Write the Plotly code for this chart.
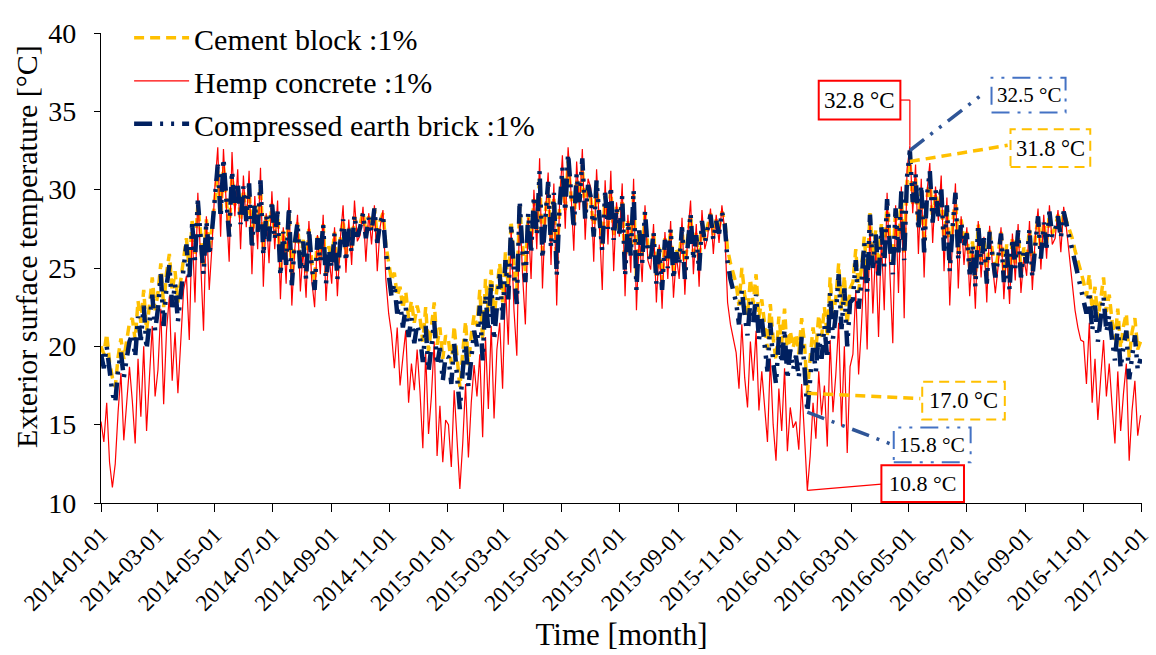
import numpy as np
import pandas as pd
import plotly.graph_objects as go

# Exterior surface temperature (°C), one reading every 3 days from 2014-01-01.
cement_2014 = [
    20.0, 19.5, 20.8, 19.0, 18.0, 17.4, 19.3, 20.5, 19.2, 20.3, 21.5,
    21.8, 20.4, 22.9, 21.5, 23.6, 21.0, 22.6, 24.4, 22.3,
    23.4, 25.3, 22.5, 24.7, 25.9, 23.5, 24.8, 22.8, 24.4, 25.6,
    26.9, 24.8, 28.0, 25.9, 29.1, 27.0, 25.2, 28.1, 26.2, 27.6,
    29.6, 31.2, 28.3, 31.5, 29.3, 27.3, 30.9, 29.0, 30.2, 28.0, 30.0,
    28.1, 30.1, 26.6, 29.0, 27.4, 30.2, 26.3, 28.4, 27.0, 29.1,
    27.0, 28.5, 24.9, 27.4, 25.5, 28.7, 24.4, 26.6, 27.9, 25.2,
    26.8, 24.7, 27.5, 25.4, 24.1, 27.0, 25.6, 27.8, 24.5, 26.4,
    25.4, 27.3, 24.8, 26.8, 28.1, 25.7, 27.6, 26.3, 28.3, 27.2,
    27.8, 28.6, 27.2, 28.3, 27.5, 28.8, 27.0, 28.0, 28.5, 26.5, 25.3,
    24.2, 24.7, 23.2, 23.8, 22.4, 23.5, 21.8, 22.9, 21.5, 22.6,
    21.8, 20.3, 22.5, 19.7, 21.4, 22.8, 20.1, 21.2, 19.2, 20.7,
]
hemp_2014 = [
    15.2, 13.9, 16.4, 12.6, 11.0, 12.5, 15.8, 18.3, 14.0, 16.2, 18.7,
    16.5, 13.8, 19.2, 15.5, 20.0, 14.6, 18.0, 21.3, 16.8,
    18.5, 22.4, 16.3, 21.0, 23.2, 17.8, 20.9, 17.0, 20.4, 23.6,
    24.5, 20.4, 27.6, 22.8, 29.8, 25.1, 21.0, 28.3, 23.6, 26.5,
    30.2, 32.7, 27.0, 32.6, 29.2, 25.4, 32.4, 28.3, 31.3, 26.2, 30.9,
    27.6, 31.2, 24.6, 29.6, 26.2, 31.4, 23.8, 28.5, 25.3, 29.9,
    26.2, 29.3, 23.0, 27.6, 24.0, 29.5, 22.6, 26.1, 28.4, 23.5,
    26.3, 23.1, 28.0, 24.2, 22.5, 27.1, 24.6, 28.4, 22.9, 25.9,
    24.0, 27.6, 23.2, 26.8, 29.0, 24.7, 28.1, 25.2, 29.3, 26.7,
    27.1, 28.9, 25.4, 28.5, 26.5, 29.0, 24.8, 27.6, 28.7, 24.3, 22.1,
    20.8, 18.6, 21.2, 17.5, 19.3, 21.0, 16.4, 18.9, 17.2, 19.8,
    17.1, 13.5, 19.6, 14.4, 16.8, 20.3, 13.0, 16.2, 12.6, 15.3,
]
earth_2014 = [
    19.5, 18.6, 20.0, 18.2, 17.0, 16.4, 18.5, 19.6, 18.0, 19.2, 20.3,
    20.8, 19.3, 21.9, 20.4, 22.6, 19.8, 21.5, 23.3, 21.0,
    22.4, 24.6, 21.3, 23.8, 25.2, 22.5, 24.0, 21.6, 23.5, 25.0,
    26.5, 24.2, 27.8, 25.5, 29.3, 26.8, 24.6, 28.0, 25.8, 27.4,
    29.8, 31.6, 28.2, 32.0, 29.4, 27.0, 31.2, 29.0, 30.5, 27.8, 30.2,
    28.0, 30.4, 26.2, 29.1, 27.3, 30.6, 25.8, 28.4, 26.7, 29.3,
    26.8, 28.6, 24.5, 27.3, 25.2, 28.9, 23.9, 26.5, 27.9, 24.8,
    26.7, 24.3, 27.5, 25.1, 23.6, 26.9, 25.4, 27.8, 24.0, 26.2,
    25.0, 27.2, 24.3, 26.6, 28.1, 25.4, 27.5, 26.0, 28.4, 27.0,
    27.6, 28.5, 26.9, 28.2, 27.3, 28.8, 26.6, 27.9, 28.4, 26.0, 24.6,
    23.2, 24.0, 22.1, 22.9, 21.2, 22.5, 20.6, 21.8, 20.2, 21.4,
    20.6, 19.0, 21.3, 18.4, 20.1, 21.6, 18.8, 19.9, 17.8, 19.4,
]

cement_2015 = [
    20.4, 18.9, 21.3, 19.5, 17.4, 19.6, 21.6, 18.8, 20.7, 22.0,
    21.3, 23.6, 20.4, 24.3, 22.2, 24.9, 21.7, 23.7, 25.3, 22.8,
    26.0, 23.8, 28.0, 25.2, 23.6, 29.0, 26.4, 24.8, 28.4, 26.3,
    29.4, 27.3, 30.8, 26.0, 28.5, 30.2, 26.7, 29.6, 25.2, 28.8,
    31.0, 28.7, 31.8, 29.7, 27.8, 30.7, 29.2, 31.5, 28.3, 30.1,
    29.4, 27.2, 30.3, 28.2, 26.5, 29.6, 27.6, 30.0, 27.1, 28.9,
    27.3, 29.4, 25.0, 28.0, 26.1, 29.7, 24.3, 27.5, 25.7, 28.5, 26.4,
    25.7, 27.3, 24.5, 26.3, 24.1, 26.9, 25.3, 27.5, 24.8, 26.2,
    25.6, 27.6, 24.8, 27.0, 28.4, 25.9, 27.3, 25.3, 28.0, 26.8,
    27.7, 28.5, 27.1, 28.1, 27.5, 28.6, 28.0, 26.2, 25.3, 24.6,
    24.0, 22.6, 25.0, 23.3, 22.0, 24.3, 22.7, 24.6, 21.8, 23.0,
    21.6, 19.8, 22.7, 20.5, 19.1, 21.9, 20.2, 22.4, 19.4, 21.0, 19.9,
]
hemp_2015 = [
    15.0, 12.3, 17.2, 14.1, 10.9, 13.8, 17.6, 12.9, 16.4, 18.8,
    16.8, 19.5, 14.2, 20.6, 16.0, 21.3, 15.4, 19.8, 21.5, 17.3,
    24.0, 20.1, 27.5, 22.3, 19.4, 29.0, 24.6, 21.4, 28.2, 24.3,
    30.0, 26.2, 32.0, 23.7, 28.4, 31.1, 25.2, 30.4, 22.6, 29.1,
    32.2, 27.5, 32.7, 29.9, 26.1, 31.8, 28.7, 32.6, 26.8, 30.7,
    30.1, 25.4, 31.3, 27.7, 23.6, 30.6, 26.5, 31.2, 24.8, 29.2,
    27.0, 30.4, 23.2, 28.4, 24.7, 30.7, 22.3, 27.2, 24.1, 29.0, 25.5,
    24.9, 27.8, 22.8, 26.5, 22.4, 27.3, 24.3, 28.0, 23.1, 25.8,
    24.3, 28.2, 23.3, 27.1, 29.3, 24.6, 27.8, 23.8, 28.7, 26.2,
    27.0, 28.8, 25.9, 28.4, 26.6, 29.0, 27.4, 22.8, 21.4, 20.6,
    19.6, 17.3, 21.4, 18.0, 16.1, 20.3, 17.8, 21.0, 15.9, 18.4,
    16.4, 13.9, 19.2, 15.0, 12.7, 17.3, 14.6, 18.6, 13.3, 16.1, 14.8,
]
earth_2015 = [
    19.3, 17.6, 20.2, 18.1, 16.0, 18.4, 20.5, 17.4, 19.6, 21.0,
    20.0, 22.6, 19.1, 23.3, 21.0, 24.1, 20.4, 22.8, 24.6, 21.7,
    25.5, 23.0, 27.8, 24.6, 22.7, 29.3, 26.0, 24.1, 28.5, 25.9,
    29.6, 27.1, 31.2, 25.6, 28.4, 30.5, 26.3, 29.8, 24.5, 28.9,
    31.4, 28.6, 32.3, 29.8, 27.5, 31.0, 29.2, 32.0, 28.1, 30.3,
    29.5, 27.0, 30.6, 28.2, 26.1, 29.8, 27.5, 30.2, 26.8, 28.9,
    27.2, 29.6, 24.5, 28.0, 25.8, 30.0, 23.6, 27.4, 25.3, 28.6, 26.1,
    25.4, 27.3, 24.0, 26.2, 23.6, 26.8, 25.0, 27.5, 24.3, 26.0,
    25.2, 27.6, 24.3, 26.8, 28.5, 25.5, 27.1, 24.8, 28.0, 26.6,
    27.5, 28.4, 26.8, 28.0, 27.2, 28.6, 27.8, 25.4, 24.3, 23.6,
    22.8, 21.4, 23.6, 22.0, 20.7, 22.9, 21.5, 23.3, 20.4, 21.8,
    20.3, 18.4, 21.5, 19.0, 17.6, 20.6, 18.9, 21.1, 17.9, 19.8, 18.5,
]

cement_2016 = [
    20.8, 19.5, 21.8, 20.2, 17.0, 19.3, 21.2, 19.8, 22.0, 20.6,
    22.5, 20.6, 24.4, 21.8, 23.1, 25.3, 22.3, 24.5, 21.4, 23.7,
    24.1, 26.2, 23.5, 25.0, 27.0, 24.4, 28.5, 25.7, 27.4, 25.1,
    27.8, 25.6, 29.3, 26.6, 25.2, 28.8, 26.4, 29.7, 26.0, 30.5,
    31.8, 29.1, 30.7, 27.6, 30.0, 26.4, 29.4, 30.8, 28.0, 29.8,
    28.4, 30.0, 26.5, 29.0, 25.3, 27.7, 29.6, 25.9, 28.1, 26.7,
    27.3, 25.0, 26.7, 24.3, 27.8, 25.5, 27.0, 24.5, 27.4, 26.0, 24.8,
    25.9, 27.3, 24.6, 26.5, 24.1, 27.0, 25.3, 27.4, 24.8, 26.3,
    25.7, 27.5, 24.9, 26.9, 28.2, 26.0, 27.9, 26.6, 28.5, 27.2,
    27.6, 28.4, 27.3, 28.6, 28.0, 27.4, 26.9, 26.1, 25.5, 24.8,
    24.1, 23.2, 24.6, 22.3, 23.8, 21.7, 23.0, 24.4, 22.2, 23.3,
    21.6, 20.4, 22.4, 19.9, 21.3, 22.1, 19.3, 20.9, 21.8, 19.8, 20.3,
]
hemp_2016 = [
    15.2, 13.4, 17.6, 14.3, 10.8, 13.0, 16.4, 14.1, 18.4, 15.6,
    17.5, 13.6, 20.4, 15.8, 18.2, 21.5, 14.9, 20.0, 13.2, 18.7,
    19.5, 23.6, 18.2, 21.3, 25.4, 19.8, 28.0, 22.1, 26.3, 20.6,
    27.0, 22.3, 29.8, 24.6, 20.2, 29.0, 23.4, 30.2, 21.8, 31.3,
    32.8, 28.5, 31.6, 25.9, 30.7, 24.4, 29.8, 31.7, 26.6, 30.2,
    28.0, 30.9, 24.8, 29.5, 22.6, 27.0, 30.4, 23.7, 28.3, 25.2,
    27.6, 23.2, 26.3, 22.4, 28.0, 24.4, 27.0, 22.8, 27.7, 25.2, 23.4,
    25.1, 27.6, 23.0, 26.2, 22.7, 27.2, 24.2, 27.8, 23.4, 25.7,
    24.5, 28.0, 23.6, 26.9, 28.8, 24.9, 28.4, 25.6, 29.0, 26.5,
    26.9, 28.7, 26.0, 28.9, 27.5, 25.8, 24.0, 22.3, 21.2, 20.4,
    20.3, 17.6, 21.5, 16.4, 19.2, 15.3, 18.0, 20.4, 16.8, 18.9,
    16.2, 13.8, 18.4, 14.6, 17.0, 18.9, 12.7, 15.9, 17.8, 14.3, 15.6,
]
earth_2016 = [
    19.4, 18.0, 20.6, 18.7, 15.8, 17.9, 19.9, 18.4, 20.8, 19.2,
    21.3, 19.2, 23.4, 20.5, 22.0, 24.6, 21.1, 23.7, 20.0, 22.8,
    23.0, 25.5, 22.4, 24.1, 26.6, 23.5, 28.4, 25.0, 27.2, 24.3,
    27.6, 25.1, 29.4, 26.3, 24.6, 28.8, 26.0, 29.9, 25.5, 30.8,
    32.5, 29.2, 31.0, 27.4, 30.3, 26.0, 29.6, 31.2, 27.9, 30.0,
    28.3, 30.2, 26.1, 29.0, 24.8, 27.6, 29.8, 25.5, 28.0, 26.4,
    27.2, 24.6, 26.5, 23.8, 27.8, 25.2, 26.9, 24.0, 27.3, 25.8, 24.4,
    25.6, 27.2, 24.1, 26.3, 23.6, 26.9, 25.0, 27.4, 24.4, 26.1,
    25.3, 27.5, 24.4, 26.7, 28.3, 25.6, 27.9, 26.3, 28.6, 27.0,
    27.4, 28.3, 26.9, 28.6, 27.8, 27.0, 26.2, 25.4, 24.6, 23.9,
    23.0, 22.1, 23.5, 21.0, 22.6, 20.3, 21.8, 23.2, 20.9, 22.0,
    20.4, 19.1, 21.3, 18.6, 20.0, 21.0, 17.9, 19.6, 20.7, 18.5, 19.2,
]

series_names = ["Cement block :1%", "Hemp concrete :1%", "Compressed earth brick :1%"]
tick_dates = pd.date_range("2014-01-01", "2017-01-01", freq="2MS")
tick_labels = [d.strftime("%Y-%m-%d") for d in tick_dates]

cement = cement_2014 + cement_2015 + cement_2016
hemp = hemp_2014 + hemp_2015 + hemp_2016
earth = earth_2014 + earth_2015 + earth_2016
dates = pd.date_range("2014-01-01", periods=len(cement), freq="3D")

GOLD = "#FFC000"
RED = "#FF0000"
NAVY = "#002060"
BLUE = "#2F5597"
BLUE_BOX = "#4472C4"
FONT = "Liberation Serif"
DASH = "10px,6px"
DASHDOT = "18px,8px,3px,8px,3px,8px"

fig = go.Figure()
fig.add_trace(go.Scatter(
    x=dates, y=cement, mode="lines", name=series_names[0], legendgroup="c",
    line=dict(color=GOLD, width=3.5, dash=DASH),
))
fig.add_trace(go.Scatter(
    x=dates, y=hemp, mode="lines", name=series_names[1], legendgroup="h",
    line=dict(color=RED, width=1.2),
))
fig.add_trace(go.Scatter(
    x=dates, y=earth, mode="lines", name=series_names[2], legendgroup="e",
    line=dict(color=NAVY, width=4.5, dash=DASHDOT),
))

# 2016 extremes that get call-out boxes
start16 = len(cement_2014) + len(cement_2015)
i_hmax = start16 + int(np.argmax(hemp_2016))
i_emax = start16 + int(np.argmax(earth_2016))
i_cmax = start16 + int(np.argmax(cement_2016))
i_hmin = start16 + int(np.argmin(hemp_2016))
i_emin = start16 + int(np.argmin(earth_2016))
i_cmin = start16 + int(np.argmin(cement_2016))

shapes = []
annotations = []


def callout(text, x, y, box, text_at, leader, color, dash, lw, box_color, size):
    # leader polyline from the data point through the given waypoints
    pts = [(x, y)] + leader
    for (xa, ya), (xb, yb) in zip(pts[:-1], pts[1:]):
        shapes.append(dict(type="line", xref="x", yref="y", x0=xa, y0=ya, x1=xb, y1=yb,
                           line=dict(color=color, width=lw, dash=dash)))
    shapes.append(dict(type="rect", xref="x", yref="y", x0=box[0], x1=box[1],
                       y0=box[2], y1=box[3], fillcolor="white",
                       line=dict(color=box_color, width=2, dash=dash)))
    annotations.append(dict(x=text_at[0], y=text_at[1], xref="x", yref="y", text=text,
                            showarrow=False, font=dict(family=FONT, size=size, color="black")))


callout(f"{hemp[i_hmax]:.1f} °C", dates[i_hmax], hemp[i_hmax],
        ("2016-01-27", "2016-04-22", 34.48, 36.95), ("2016-03-10", 35.72),
        [(dates[i_hmax], 35.72), ("2016-04-22", 35.72)], RED, "solid", 1.2, RED, 23)
callout(f"{earth[i_emax]:.1f} °C", dates[i_emax], earth[i_emax],
        ("2016-07-27", "2016-10-13", 34.93, 37.15), ("2016-09-04", 36.05),
        [("2016-07-17", 36.07)], BLUE, DASHDOT, 3.5, BLUE_BOX, 21)
callout(f"{cement[i_cmax]:.1f} °C", dates[i_cmax], cement[i_cmax],
        ("2016-08-16", "2016-11-08", 31.44, 33.85), ("2016-09-27", 32.64),
        [("2016-08-13", 32.83)], GOLD, DASH, 3.5, GOLD, 22.5)
callout(f"{cement[i_cmin]:.1f} °C", dates[i_cmin], cement[i_cmin],
        ("2016-05-15", "2016-08-10", 15.33, 17.74), ("2016-06-27", 16.53),
        [("2016-05-13", 16.66)], GOLD, DASH, 3.5, GOLD, 22.5)
callout(f"{earth[i_emin]:.1f} °C", dates[i_emin], earth[i_emin],
        ("2016-04-15", "2016-07-05", 12.60, 14.82), ("2016-05-25", 13.71),
        [("2016-04-13", 13.74)], BLUE, DASHDOT, 3.5, BLUE_BOX, 21.5)
callout(f"{hemp[i_hmin]:.1f} °C", dates[i_hmin], hemp[i_hmin],
        ("2016-04-02", "2016-06-28", 10.06, 12.41), ("2016-05-15", 11.24),
        [("2016-04-02", 11.2)], RED, "solid", 1.2, RED, 22)

# y-axis title, placed a little above the axis midpoint
annotations.append(dict(
    text="Exterior surface temperature [°C]", textangle=-90,
    xref="paper", yref="paper", x=-0.071, y=0.545, xanchor="center", yanchor="middle",
    showarrow=False, font=dict(family=FONT, size=30, color="black"),
))

fig.update_layout(
    width=1156, height=655,
    margin=dict(l=101, r=14, t=30, b=152),
    paper_bgcolor="white", plot_bgcolor="white",
    font=dict(family=FONT, color="black"),
    shapes=shapes, annotations=annotations,
    legend=dict(x=0.027, y=1.045, xanchor="left", yanchor="top",
                bgcolor="rgba(0,0,0,0)", font=dict(family=FONT, size=30, color="black"),
                tracegroupgap=1, itemwidth=55),
    xaxis=dict(
        type="date", range=["2014-01-01", "2017-01-01 12:00"],
        tickvals=tick_dates, ticktext=tick_labels, tickangle=-45,
        ticklabeloverflow="allow", automargin=False,
        ticks="outside", ticklen=8, tickwidth=1.3, tickcolor="black",
        showline=True, linecolor="black", linewidth=1.3,
        showgrid=False, zeroline=False,
        tickfont=dict(family=FONT, size=23, color="black"),
        title=dict(text="Time [month]", font=dict(family=FONT, size=31, color="black"),
                   standoff=8),
    ),
    yaxis=dict(
        range=[10, 40], dtick=5, ticks="outside", ticklen=6, tickwidth=1.3,
        tickcolor="black", showline=True, linecolor="black", linewidth=1.3,
        showgrid=False, zeroline=False, ticklabelstandoff=12, automargin=False,
        tickfont=dict(family=FONT, size=28, color="black"),
    ),
)

fig.write_html("out.html")
